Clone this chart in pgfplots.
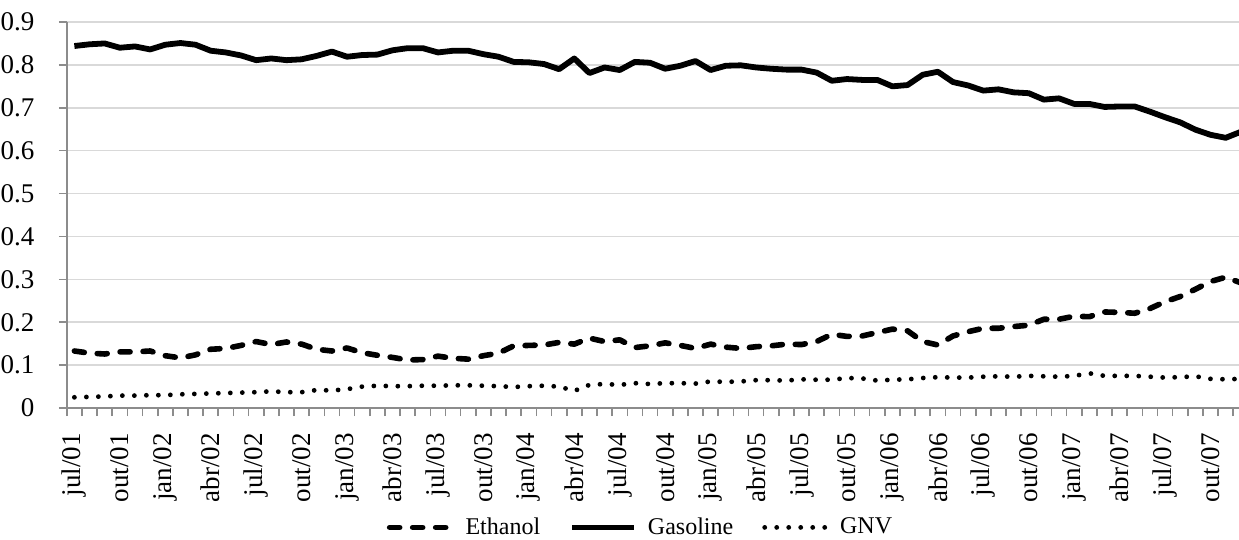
\documentclass[border=0pt]{standalone}
\usepackage{fontspec}
\setmainfont{Liberation Serif}
\usepackage{pgfplots}
\pgfplotsset{compat=1.18}
\usepackage{pgfplotstable}

\pgfplotstableread{
x y
0 0.133
1 0.128
2 0.126
3 0.131
4 0.131
5 0.133
6 0.122
7 0.117
8 0.124
9 0.137
10 0.139
11 0.146
12 0.155
13 0.148
14 0.154
15 0.149
16 0.137
17 0.133
18 0.140
19 0.129
20 0.123
21 0.118
22 0.112
23 0.113
24 0.121
25 0.116
26 0.114
27 0.122
28 0.128
29 0.145
30 0.146
31 0.147
32 0.153
33 0.149
34 0.163
35 0.155
36 0.159
37 0.141
38 0.145
39 0.152
40 0.146
41 0.139
42 0.149
43 0.142
44 0.139
45 0.143
46 0.145
47 0.149
48 0.148
49 0.155
50 0.172
51 0.167
52 0.168
53 0.176
54 0.184
55 0.180
56 0.155
57 0.147
58 0.168
59 0.178
60 0.186
61 0.186
62 0.190
63 0.193
64 0.207
65 0.207
66 0.214
67 0.213
68 0.224
69 0.223
70 0.221
71 0.232
72 0.248
73 0.260
74 0.277
75 0.295
76 0.305
77 0.292
}\ethanol

\pgfplotstableread{
x y
0 0.844
1 0.848
2 0.850
3 0.840
4 0.843
5 0.836
6 0.847
7 0.851
8 0.847
9 0.833
10 0.829
11 0.822
12 0.811
13 0.815
14 0.811
15 0.813
16 0.821
17 0.831
18 0.819
19 0.823
20 0.824
21 0.834
22 0.839
23 0.839
24 0.829
25 0.833
26 0.833
27 0.825
28 0.819
29 0.807
30 0.806
31 0.802
32 0.790
33 0.815
34 0.781
35 0.794
36 0.788
37 0.807
38 0.805
39 0.791
40 0.798
41 0.809
42 0.788
43 0.798
44 0.799
45 0.794
46 0.791
47 0.789
48 0.789
49 0.782
50 0.763
51 0.767
52 0.765
53 0.765
54 0.750
55 0.753
56 0.777
57 0.784
58 0.760
59 0.752
60 0.740
61 0.743
62 0.736
63 0.734
64 0.719
65 0.722
66 0.709
67 0.709
68 0.702
69 0.703
70 0.703
71 0.691
72 0.678
73 0.666
74 0.649
75 0.637
76 0.630
77 0.644
}\gasoline

\pgfplotstableread{
x y
0 0.025
1 0.026
2 0.027
3 0.029
4 0.029
5 0.030
6 0.030
7 0.032
8 0.033
9 0.034
10 0.035
11 0.036
12 0.037
13 0.039
14 0.037
15 0.037
16 0.042
17 0.041
18 0.044
19 0.050
20 0.052
21 0.051
22 0.051
23 0.052
24 0.052
25 0.053
26 0.053
27 0.052
28 0.051
29 0.049
30 0.051
31 0.052
32 0.050
33 0.040
34 0.054
35 0.056
36 0.054
37 0.058
38 0.056
39 0.058
40 0.058
41 0.057
42 0.062
43 0.061
44 0.062
45 0.065
46 0.065
47 0.064
48 0.067
49 0.066
50 0.066
51 0.070
52 0.069
53 0.064
54 0.066
55 0.067
56 0.070
57 0.072
58 0.071
59 0.071
60 0.073
61 0.074
62 0.073
63 0.075
64 0.074
65 0.073
66 0.075
67 0.081
68 0.075
69 0.075
70 0.075
71 0.073
72 0.071
73 0.072
74 0.074
75 0.068
76 0.067
77 0.068
}\gnv

\begin{document}
\begin{tikzpicture}
\begin{axis}[
  scale only axis,
  width=586pt, height=193pt,
  xmin=-0.5, xmax=76.88,
  ymin=0, ymax=0.9,
  separate axis lines,
  axis x line*=bottom, axis y line*=left,
  axis line style={-, draw=black!45, line width=0.8pt},
  tick align=outside,
  major tick length=4pt, minor tick length=4pt,
  tick style={draw=black!45, line width=0.8pt},
  xtick={0,3,...,75},
  xticklabels={jul/01,out/01,jan/02,abr/02,jul/02,out/02,jan/03,abr/03,jul/03,out/03,jan/04,abr/04,jul/04,out/04,jan/05,abr/05,jul/05,out/05,jan/06,abr/06,jul/06,out/06,jan/07,abr/07,jul/07,out/07},
  minor xtick={-0.5,0.5,...,76.5},
  xtick style={draw=none},
  minor x tick style={draw=black!45, line width=0.8pt},
  xticklabel style={rotate=90, anchor=east, inner sep=0pt, font=\fontsize{13.5}{15}\selectfont},
  xticklabel shift=8.5pt,
  ytick={0,0.1,0.2,0.3,0.4,0.5,0.6,0.7,0.8,0.9},
  yticklabels={0,0.1,0.2,0.3,0.4,0.5,0.6,0.7,0.8,0.9},
  yticklabel style={anchor=east, inner sep=0pt, font=\fontsize{13.5}{15}\selectfont},
  yticklabel shift=12pt,
  ymajorgrids,
  grid style={draw=black!15, line width=0.8pt},
  legend columns=3,
  legend style={draw=none, fill=none, inner sep=0pt, at={(0.489,-0.3383)}, anchor=south,
    font=\fontsize{12}{14}\selectfont,
    nodes={inner sep=0.5pt},
    /tikz/every odd column/.append style={column sep=5pt},
    /tikz/every even column/.append style={column sep=14pt}},
  legend image code/.code={\draw[#1] (0pt,0pt) -- (31pt,0pt);},
  clip=true,
]
\addplot[black, line width=2.8pt, line cap=round, line join=round, dash pattern=on 5pt off 6.5pt] table[x=x,y=y]{\ethanol};
\addlegendentry{Ethanol}
\addplot[black, line width=2.9pt, line join=round] table[x=x,y=y]{\gasoline};
\addlegendentry{Gasoline}
\addplot[black, line width=2.4pt, line cap=round, dash pattern=on 0pt off 6pt] table[x=x,y=y]{\gnv};
\addlegendentry{GNV}
\coordinate (tl) at (rel axis cs:0,1);
\coordinate (br) at (rel axis cs:1,0);
\end{axis}
\pgfresetboundingbox
\useasboundingbox ([xshift=-33.4pt,yshift=11pt]tl) rectangle ([yshift=-65.5pt]br);
\end{tikzpicture}
\end{document}
